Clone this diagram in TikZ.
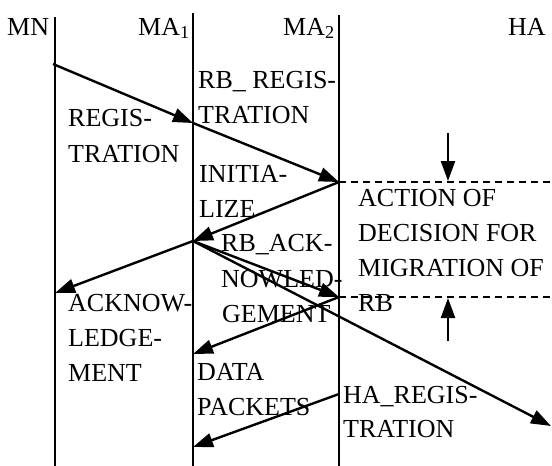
\documentclass[tikz,border=0pt]{standalone}
\usepackage{fontspec}
\setmainfont{Liberation Serif}
\usetikzlibrary{arrows.meta}
\begin{document}
\begin{tikzpicture}[x=1pt,y=-1pt,
  lbl/.style={anchor=base west,inner sep=0pt,font=\fontsize{26}{35}\selectfont},
  life/.style={line width=1.8pt},
  msg/.style={line width=2.4pt,-{Triangle[length=20pt,width=14pt]}},
  dashline/.style={line width=1.4pt,dash pattern=on 7pt off 5pt}]
\useasboundingbox (0,0) rectangle (552,466);
% lifeline coordinates
\coordinate (mnT) at (55,17);  \coordinate (mnB) at (55,466);
\coordinate (a1T) at (193,13); \coordinate (a1B) at (193,466);
\coordinate (a2T) at (339,15); \coordinate (a2B) at (339,466);
\draw[life] (mnT) -- (mnB);
\draw[life] (a1T) -- (a1B);
\draw[life] (a2T) -- (a2B);
% headers
\node[lbl] (hmn) at (7,35) {MN};
\node[lbl] (ha1) at (138,35) {MA\textsubscript{1}};
\node[lbl] (ha2) at (283,35) {MA\textsubscript{2}};
\node[lbl] (hha) at (508,35) {HA};
% event points
\coordinate (p1) at (53,64);
\coordinate (p2) at (193,123);
\coordinate (p3) at (339,182);
\coordinate (p4) at (193,241);
\coordinate (p5) at (339,297);
\coordinate (p6) at (55,293);
\coordinate (p7) at (551,426);
\coordinate (p8) at (193,354);
\coordinate (p9) at (339,394);
\coordinate (p10) at (193,447);
\coordinate (dE1) at (552,182);
\coordinate (dE2) at (552,297);
\coordinate (v1s) at (448,133); \coordinate (v1e) at (448,181);
\coordinate (v2s) at (448,341); \coordinate (v2e) at (448,298);
% dashed lines
\draw[dashline] (p3) -- (dE1);
\draw[dashline] (p5) -- (dE2);
% messages
\draw[msg] (p1) -- (p2);
\draw[msg] (p2) -- (p3);
\draw[msg] (p3) -- (p4);
\draw[msg] (p4) -- (p5);
\draw[msg] (p4) -- (p7);
\draw[msg] (p4) -- (p6);
\draw[msg] (p5) -- (p8);
\draw[msg] (p9) -- (p10);
\draw[msg] (v1s) -- (v1e);
\draw[msg] (v2s) -- (v2e);
% labels
\node[lbl] (t1) at (198,88) {RB\_ REGIS-};
\node[lbl] (t1b) at (198,123) {TRATION};
\node[lbl] (t2) at (68,126) {REGIS-};
\node[lbl] (t2b) at (68,162) {TRATION};
\node[lbl] (t3) at (199,182) {INITIA-};
\node[lbl] (t3b) at (199,217) {LIZE};
\node[lbl] (t4) at (221,251) {RB\_ACK-};
\node[lbl] (t4b) at (221,287) {NOWLED-};
\node[lbl] (t4c) at (222,322) {GEMENT};
\node[lbl] (t5) at (358,206) {ACTION OF};
\node[lbl] (t5b) at (358,241) {DECISION FOR};
\node[lbl] (t5c) at (358,276) {MIGRATION OF};
\node[lbl] (t5d) at (358,311) {RB};
\node[lbl] (t6) at (68,311) {ACKNOW-};
\node[lbl] (t6b) at (68,346) {LEDGE-};
\node[lbl] (t6c) at (68,381) {MENT};
\node[lbl] (t7) at (197,380) {DATA};
\node[lbl] (t7b) at (197,415) {PACKETS};
\node[lbl] (t8) at (343,403) {HA\_REGIS-};
\node[lbl] (t8b) at (343,437) {TRATION};
\end{tikzpicture}
\end{document}
